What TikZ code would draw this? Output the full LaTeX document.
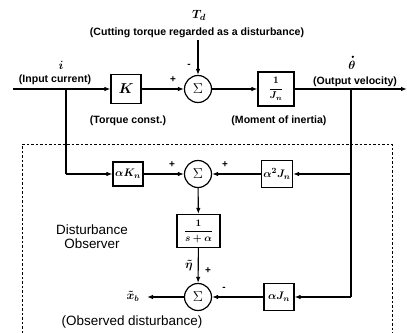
\documentclass[tikz,border=0pt]{standalone}
\usepackage{amsmath}
\usepackage{fontspec}
\setmainfont{Liberation Sans}
\usetikzlibrary{arrows.meta}
\begin{document}
\begin{tikzpicture}[x=1bp,y=-1bp,
  line width=1.1bp,
  arr/.style={-{Latex[length=6bp,width=4.5bp]}},
  blk/.style={draw, line width=1.2bp, inner sep=0pt, font=\boldmath\fontsize{13}{15}\selectfont},
  sumn/.style={draw, circle, line width=1.2bp, minimum size=27bp, inner sep=0pt, font=\fontsize{14}{16}\selectfont},
  lbl/.style={font=\bfseries\fontsize{10.6}{12}\selectfont, inner sep=0pt},
  sgn/.style={font=\bfseries\fontsize{10}{11}\selectfont, inner sep=0pt},
  mlbl/.style={inner sep=0pt, font=\boldmath\fontsize{12}{14}\selectfont},
  big/.style={font=\fontsize{13.5}{15}\selectfont, inner sep=0pt, align=center}]
\useasboundingbox (0,0) rectangle (407,333);
% blocks
\node[blk, minimum width=30bp, minimum height=29bp, font=\boldmath\fontsize{15}{17}\selectfont] (K) at (126,89) {$K$};
\node[sumn] (s1) at (198,89) {$\Sigma$};
\node[blk, minimum width=36bp, minimum height=34bp, font=\boldmath\fontsize{10}{11}\selectfont] (J) at (276,89) {$\displaystyle\frac{1}{J_n}$};
\node[blk, minimum width=30bp, minimum height=24bp, font=\boldmath\fontsize{11}{13}\selectfont] (wK) at (128,174) {$\alpha K_n$};
\node[sumn] (s2) at (198,174) {$\Sigma$};
\node[blk, minimum width=31bp, minimum height=27bp, font=\boldmath\fontsize{11}{13}\selectfont] (w2J) at (277,174) {$\alpha^2 J_n$};
\node[blk, minimum width=43bp, minimum height=33bp, font=\boldmath\fontsize{10}{11}\selectfont] (F) at (198.5,231) {$\displaystyle\frac{1}{s+\alpha}$};
\node[sumn] (s3) at (198,297) {$\Sigma$};
\node[blk, minimum width=30bp, minimum height=27bp, font=\boldmath\fontsize{11}{13}\selectfont] (wJ) at (279,297) {$\alpha J_n$};
% coordinates
\coordinate (in) at (13,89);
\coordinate (b1) at (66,89);
\coordinate (b1d) at (66,174);
\coordinate (out) at (407,89);
\coordinate (b2) at (351,89);
\coordinate (b2m) at (351,174);
\coordinate (b2d) at (351,297);
\coordinate (tdtop) at (198,40);
\coordinate (xb) at (147,297);
% connectors
\draw[arr] (in) -- (K);
\draw[arr] (K) -- (s1);
\draw[arr] (tdtop) -- (s1);
\draw[arr] (s1) -- (J);
\draw[arr] (J) -- (out);
\draw (b1) -- (b1d);
\draw[arr] (b1d) -- (wK);
\draw[arr] (wK) -- (s2);
\draw (b2) -- (b2d);
\draw[arr] (b2m) -- (w2J);
\draw[arr] (w2J) -- (s2);
\draw[arr] (s2) -- (F);
\draw[arr] (F) -- (s3);
\draw[arr] (b2d) -- (wJ);
\draw[arr] (wJ) -- (s3);
\draw[arr] (s3) -- (xb);
% dashed observer frame
\draw[line width=0.9bp, dash pattern=on 2.5bp off 2bp] (22,333) -- (22,144) -- (392,144) -- (392,333);
% labels
\node[mlbl, font=\boldmath\fontsize{13}{15}\selectfont] (td) at (199,15) {$T_d$};
\node[lbl] (cut) at (197,33) {(Cutting torque regarded as a disturbance)};
\node[mlbl] (il) at (61,65) {$i$};
\node[lbl] (inl) at (55,80) {(Input current)};
\node[lbl] (tql) at (128,121) {(Torque const.)};
\node[lbl] (mol) at (279,121) {(Moment of inertia)};
\node[mlbl, font=\boldmath\fontsize{12}{14}\selectfont] (th) at (352,65) {$\theta$};
\fill ([xshift=0.8bp,yshift=3.5bp]th.north) circle (1.3bp);
\node[lbl] (outl) at (355,81.5) {(Output velocity)};
\node[sgn] (p1) at (173,80) {+};
\node[sgn] (m1) at (189,66) {-};
\node[sgn] (p2) at (172,165) {+};
\node[sgn] (p3) at (225,165) {+};
\node[sgn] (p4) at (208,271) {+};
\node[sgn] (m2) at (224,289) {-};
\node[mlbl] (eta) at (189,266) {$\tilde\eta$};
\node[mlbl] (xbl) at (133,296) {$\tilde x_b$};
\node[big] (dob) at (92,237) {Disturbance\\[-1bp]Observer};
\node[big] (obs) at (132,322) {(Observed disturbance)};
\end{tikzpicture}
\end{document}
